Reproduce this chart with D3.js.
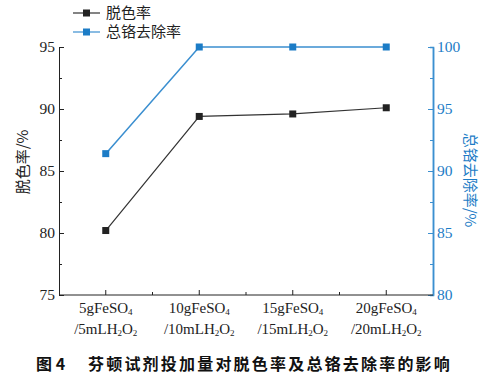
<!DOCTYPE html>
<html><head><meta charset="utf-8">
<script src="https://cdn.jsdelivr.net/npm/d3@7"></script>
<style>body{margin:0;background:#fff}</style>
</head><body>
<svg id="c" width="495" height="379"></svg>
<script>
const categories = [
  ["5gFeSO", "4", "/5mLH", "2", "O", "2"],
  ["10gFeSO", "4", "/10mLH", "2", "O", "2"],
  ["15gFeSO", "4", "/15mLH", "2", "O", "2"],
  ["20gFeSO", "4", "/20mLH", "2", "O", "2"]
];
const decolor = [80.2, 89.4, 89.6, 90.1];
const chromium = [91.4, 100, 100, 100];
const leftTicks = [75, 80, 85, 90, 95];
const rightTicks = [80, 85, 90, 95, 100];
const seriesNames = ["脱色率", "总铬去除率"];

const svg = d3.select("#c");
const L = 59, R = 433, T = 47, B = 295;
const blue = "#1c7cc6", lineBlue = "#3b8fd0", black = "#222";
const serif = "'Liberation Serif','DejaVu Serif',serif";
const cjk = "'Noto Sans CJK SC',sans-serif";

const x = d3.scaleBand().domain(d3.range(categories.length)).range([L, R]);
const yL = d3.scaleLinear().domain([75, 95]).range([B, T]);
const yR = d3.scaleLinear().domain([80, 100]).range([B, T]);

// left axis
const gL = svg.append("g").attr("transform", `translate(${L},0)`)
  .call(d3.axisLeft(yL).tickValues(leftTicks).tickSize(-5).tickPadding(4).tickSizeOuter(0));
gL.append("g").call(d3.axisLeft(yL).tickValues(d3.range(77.5, 95, 5)).tickSize(-3).tickFormat(""));
gL.selectAll(".domain").attr("stroke", black);
gL.selectAll(".tick line").attr("stroke", black);
gL.selectAll("text").attr("font-family", serif).attr("font-size", 15.5).attr("fill", "#222");
gL.select("g").select(".domain").remove();

// right axis
const gR = svg.append("g").attr("transform", `translate(${R},0)`)
  .call(d3.axisRight(yR).tickValues(rightTicks).tickSize(-5).tickPadding(4).tickSizeOuter(0));
gR.append("g").call(d3.axisRight(yR).tickValues(d3.range(82.5, 100, 5)).tickSize(-3).tickFormat(""));
gR.selectAll(".domain").attr("stroke", lineBlue).attr("stroke-width", 1.5);
gR.selectAll(".tick line").attr("stroke", lineBlue);
gR.selectAll("text").attr("font-family", serif).attr("font-size", 15.5).attr("fill", blue);
gR.select("g").select(".domain").remove();

// bottom axis
const gB = svg.append("g").attr("transform", `translate(0,${B})`);
gB.append("line").attr("x1", L).attr("x2", R).attr("stroke", black);
const xPos = d3.range(categories.length).map(i => x(i) + x.bandwidth() / 2);
gB.selectAll(".mt").data(xPos).join("line")
  .attr("x1", d => d).attr("x2", d => d).attr("y1", 0).attr("y2", -5).attr("stroke", black);
gB.selectAll(".nt").data(d3.range(1, categories.length)).join("line")
  .attr("x1", d => x(d)).attr("x2", d => x(d)).attr("y1", 0).attr("y2", -3).attr("stroke", black);

categories.forEach((c, i) => {
  const cx = xPos[i];
  const t1 = gB.append("text").attr("x", cx).attr("y", 18).attr("text-anchor", "middle")
    .attr("font-family", serif).attr("font-size", 15).attr("fill", "#222");
  t1.append("tspan").text(c[0]);
  t1.append("tspan").text(c[1]).attr("font-size", 9).attr("dy", 2);
  const t2 = gB.append("text").attr("x", cx).attr("y", 39).attr("text-anchor", "middle")
    .attr("font-family", serif).attr("font-size", 15).attr("fill", "#222");
  t2.append("tspan").text(c[2]);
  t2.append("tspan").text(c[3]).attr("font-size", 9).attr("dy", 2);
  t2.append("tspan").text(c[4]).attr("dy", -2);
  t2.append("tspan").text(c[5]).attr("font-size", 9).attr("dy", 2);
});

// lines
const lineL = d3.line().x((d, i) => xPos[i]).y(d => yL(d));
const lineR = d3.line().x((d, i) => xPos[i]).y(d => yR(d));
svg.append("path").attr("d", lineL(decolor)).attr("fill", "none").attr("stroke", "#333").attr("stroke-width", 1.2);
svg.append("path").attr("d", lineR(chromium)).attr("fill", "none").attr("stroke", lineBlue).attr("stroke-width", 1.5);
const ms = 7;
svg.selectAll(".pL").data(decolor).join("rect")
  .attr("x", (d, i) => xPos[i] - ms / 2).attr("y", d => yL(d) - ms / 2)
  .attr("width", ms).attr("height", ms).attr("fill", black);
svg.selectAll(".pR").data(chromium).join("rect")
  .attr("x", (d, i) => xPos[i] - ms / 2).attr("y", d => yR(d) - ms / 2)
  .attr("width", ms).attr("height", ms).attr("fill", blue);

// axis titles
svg.append("text").attr("transform", `translate(28,162) rotate(-90)`).attr("text-anchor", "middle")
  .attr("font-family", cjk).attr("font-size", 15).attr("fill", "#222")
  .text("脱色率/%");
svg.append("text").attr("transform", `translate(465,180) rotate(90)`).attr("text-anchor", "middle")
  .attr("font-family", cjk).attr("font-size", 15).attr("fill", blue)
  .text("总铬去除率/%");

// legend
const leg = [{n: seriesNames[0], c: black, lc: "#333", y: 13}, {n: seriesNames[1], c: blue, lc: lineBlue, y: 32}];
leg.forEach(l => {
  svg.append("line").attr("x1", 73).attr("x2", 100).attr("y1", l.y).attr("y2", l.y).attr("stroke", l.lc).attr("stroke-width", 1.2);
  svg.append("rect").attr("x", 83).attr("y", l.y - 3.5).attr("width", 7).attr("height", 7).attr("fill", l.c);
  svg.append("text").attr("x", 106).attr("y", l.y + 5).attr("font-family", cjk)
    .attr("font-size", 15).attr("fill", "#222").text(l.n);
});

// caption
svg.append("text").attr("x", 36).attr("y", 370)
  .attr("font-family", cjk).attr("font-weight", "bold")
  .attr("font-size", 16).attr("fill", "#111").text("图 4");
svg.append("text").attr("x", 88).attr("y", 370)
  .attr("font-family", cjk).attr("font-weight", "bold")
  .attr("font-size", 16).attr("letter-spacing", 2.2).attr("fill", "#111")
  .text("芬顿试剂投加量对脱色率及总铬去除率的影响");
</script>
</body></html>
